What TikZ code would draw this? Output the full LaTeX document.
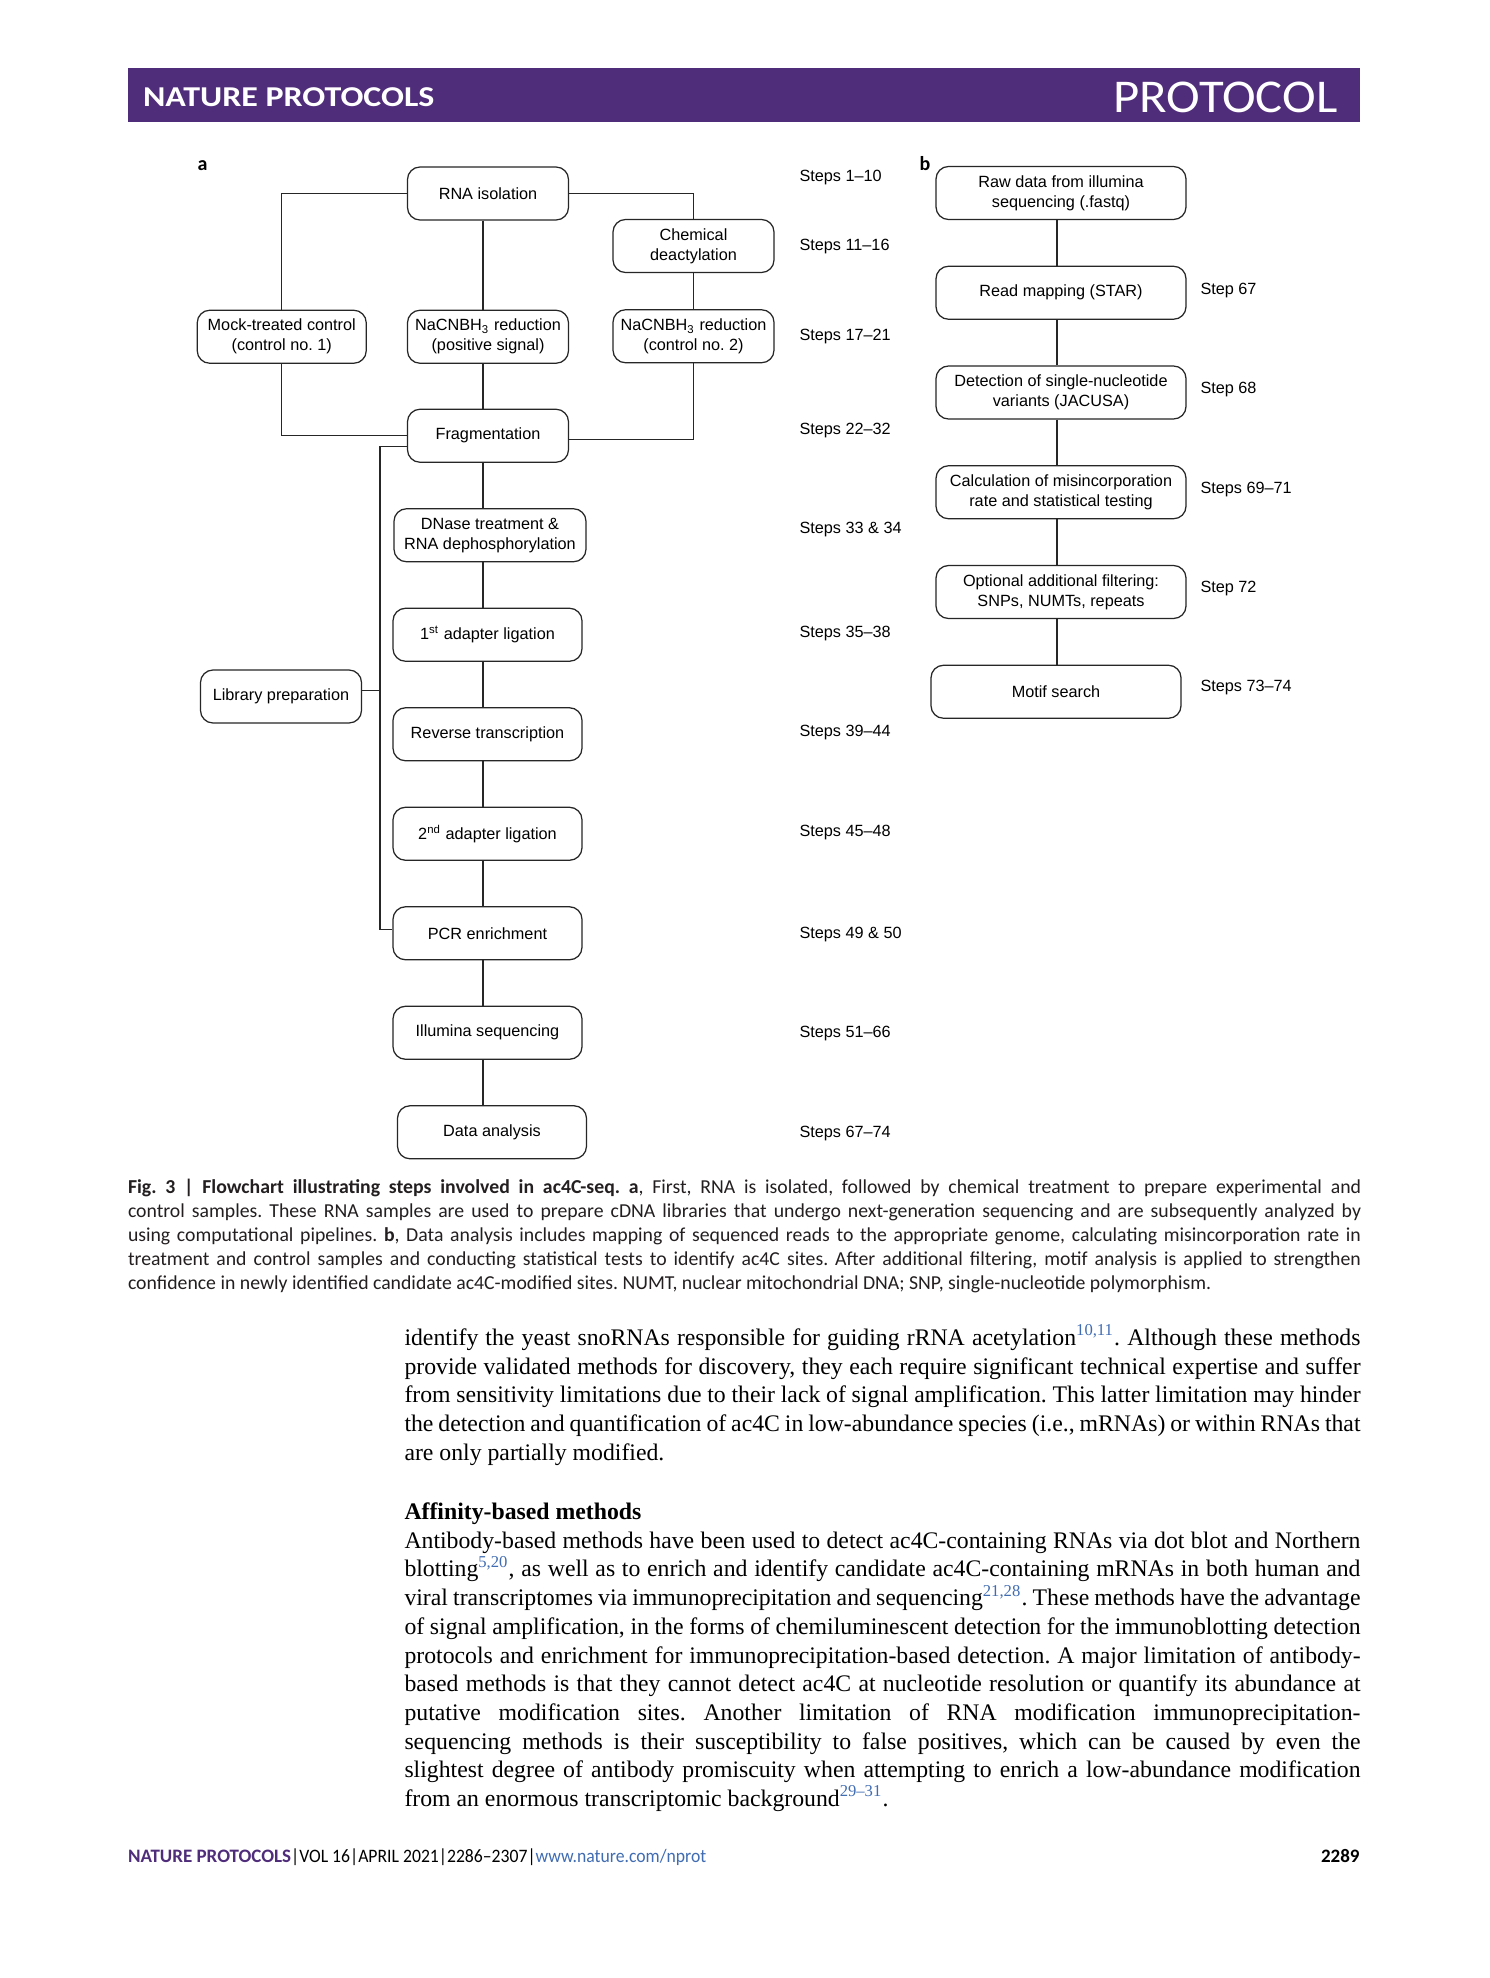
\documentclass[tikz,border=0pt]{standalone}
\usepackage{fontspec}
\setmainfont{Liberation Serif}
\setsansfont{Liberation Sans}
\newfontfamily\npfont[Ligatures=TeX]{Carlito}
\newfontfamily\npwide[Ligatures=TeX, FakeStretch=1.18]{Carlito}
\newfontfamily\nptitle[Ligatures=TeX, FakeStretch=1.08]{Carlito}
\newfontfamily\npnarrow[Ligatures=TeX, FakeStretch=0.93]{Carlito}
\usetikzlibrary{positioning}
\definecolor{npurple}{RGB}{80,45,122}
\definecolor{citeblue}{RGB}{64,108,178}
\definecolor{capgray}{RGB}{35,31,32}
\newcommand{\figfont}{\sffamily\fontsize{6.5}{8}\selectfont}
\newcommand{\refnum}[1]{\textsuperscript{\color{citeblue}#1}}
\frenchspacing

\begin{document}
\begin{tikzpicture}[
    x=0.4pt, y=-0.4pt,
    node distance=18.1pt and 16pt,
    every node/.style={inner sep=0pt},
    box/.style={draw=black!85, line width=0.5pt, rounded corners=5pt, align=center,
                font=\figfont, inner sep=1pt, minimum height=21.2pt},
    sbox/.style={box, minimum width=64.4pt},
    wbox/.style={box, minimum width=75.6pt},
    rbox/.style={box, minimum width=100pt},
    link/.style={draw=black!85, line width=0.5pt},
    steplbl/.style={font=\figfont, anchor=base west},
    panel/.style={font=\npfont\bfseries\fontsize{8}{8}\selectfont, anchor=base west},
    prose/.style={anchor=base west, align=justify, text width=382.4pt,
                  font=\rmfamily\fontsize{9.5}{11.48}\selectfont}
]
    \useasboundingbox (0,0) rectangle (1489,1978);
    \fill[white] (0,0) rectangle (1489,1978);

    % running head
    \fill[npurple] (127.5,68) rectangle (1360,122);
    \node[anchor=west, text=white, font=\npwide\bfseries\fontsize{11.5}{12}\selectfont]
        (jname) at (142.6,97.5) {NATURE PROTOCOLS};
    \node[anchor=east, text=white, font=\nptitle\fontsize{18.8}{20}\selectfont]
        (ptype) at (1338,97.7) {PROTOCOL};

    % panel a
    \node[panel] (pa) at (197,170.5) {a};
    \node[sbox] (rna) at (488,193.5) {RNA isolation};
    \node[sbox] (chem) at (693.5,246) {Chemical\\deactylation};
    \node[sbox, below=35.6pt of rna] (pos) {NaCNBH\textsubscript{3} reduction\\(positive signal)};
    \node[sbox, below=14.4pt of chem] (ctrl) {NaCNBH\textsubscript{3} reduction\\(control no. 2)};
    \node[sbox, minimum width=67.6pt, left=16pt of pos] (mock) {Mock-treated control\\(control no. 1)};
    \node[sbox, below=17.9pt of pos] (frag) {Fragmentation};
    \node[box, minimum width=76.8pt, below=of frag, xshift=0.8pt] (dnase) {DNase treatment \&\\RNA dephosphorylation};
    \node[wbox, below=of dnase, xshift=-1pt] (lig1) {1\textsuperscript{st} adapter ligation};
    \node[wbox, below=of lig1] (rt) {Reverse transcription};
    \node[wbox, below=of rt] (lig2) {2\textsuperscript{nd} adapter ligation};
    \node[wbox, below=of lig2] (pcr) {PCR enrichment};
    \node[wbox, below=of pcr] (seq) {Illumina sequencing};
    \node[wbox, below=of seq, xshift=1.8pt] (data) {Data analysis};
    \node[sbox] (lib) at (281,696.5) {Library preparation};
    \coordinate (spine) at (483,0);
    \coordinate (brk) at (380,0);

    \draw[link] (rna.west) -| (mock.north);
    \draw[link] (rna.east) -| (chem.north);
    \draw[link] (chem) -- (ctrl);
    \draw[link] (rna.south -| spine) -- (pos.north -| spine);
    \draw[link] (pos.south -| spine) -- (frag.north -| spine);
    \draw[link] (mock.south) |- (frag.west);
    \draw[link] (ctrl.south) |- ([yshift=-1.5pt]frag.east);
    \foreach \a/\b in {frag/dnase, dnase/lig1, lig1/rt, rt/lig2, lig2/pcr, pcr/seq, seq/data}
        \draw[link] (\a.south -| spine) -- (\b.north -| spine);
    \draw[link] ([yshift=-4.4pt]frag.west) -- ([yshift=-4.4pt]frag.west -| brk)
        |- ([yshift=1.6pt]pcr.west);
    \draw[link] ([yshift=2.3pt]lib.east) -- ([yshift=2.3pt]lib.east -| brk);

    \node[steplbl] (sa1) at (799,181.5) {Steps 1--10};
    \node[steplbl] (sa2) at (799,251) {Steps 11--16};
    \node[steplbl] (sa3) at (799,340.5) {Steps 17--21};
    \node[steplbl] (sa4) at (799,434) {Steps 22--32};
    \node[steplbl] (sa5) at (799,533.5) {Steps 33 \& 34};
    \node[steplbl] (sa6) at (799,637) {Steps 35--38};
    \node[steplbl] (sa7) at (799,736.5) {Steps 39--44};
    \node[steplbl] (sa8) at (799,836.3) {Steps 45--48};
    \node[steplbl] (sa9) at (799,938.5) {Steps 49 \& 50};
    \node[steplbl] (sa10) at (799,1037.5) {Steps 51--66};
    \node[steplbl] (sa11) at (799,1137.5) {Steps 67--74};

    % panel b
    \node[panel] (pb) at (919,170.5) {b};
    \node[rbox] (raw) at (1061,193) {Raw data from illumina\\sequencing (.fastq)};
    \node[rbox, below=18.2pt of raw] (map) {Read mapping (STAR)};
    \node[rbox, below=18.2pt of map] (snv) {Detection of single-nucleotide\\variants (JACUSA)};
    \node[rbox, below=18.2pt of snv] (rate) {Calculation of misincorporation\\rate and statistical testing};
    \node[rbox, below=18.2pt of rate] (filt) {Optional additional filtering:\\SNPs, NUMTs, repeats};
    \node[rbox, below=18.2pt of filt, xshift=-2pt] (motif) {Motif search};
    \coordinate (spineb) at (1057,0);
    \foreach \a/\b in {raw/map, map/snv, snv/rate, rate/filt, filt/motif}
        \draw[link] (\a.south -| spineb) -- (\b.north -| spineb);

    \node[steplbl] (sb1) at (1200,294.5) {Step 67};
    \node[steplbl] (sb2) at (1200,393.5) {Step 68};
    \node[steplbl] (sb3) at (1200,493.5) {Steps 69--71};
    \node[steplbl] (sb4) at (1200,592.7) {Step 72};
    \node[steplbl] (sb5) at (1200,691.7) {Steps 73--74};

    % legend
    \node[anchor=base west, align=justify, text width=493.2pt, text=capgray,
          font=\npfont\fontsize{7.9}{9.6}\selectfont] (caption) at (127.5,1193)
    {\hyphenpenalty=10000\exhyphenpenalty=10000
     \textbf{Fig. 3 | Flowchart illustrating steps involved in ac4C-seq. a}, First, RNA is isolated, followed by chemical treatment to prepare experimental and\linebreak
     control samples. These RNA samples are used to prepare cDNA libraries that undergo next-generation sequencing and are subsequently analyzed by\linebreak
     using computational pipelines. \textbf{b}, Data analysis includes mapping of sequenced reads to the appropriate genome, calculating misincorporation rate in\linebreak
     treatment and control samples and conducting statistical tests to identify ac4C sites. After additional filtering, motif analysis is applied to strengthen\linebreak
     confidence in newly identified candidate ac4C-modified sites. NUMT, nuclear mitochondrial DNA; SNP, single-nucleotide polymorphism.};

    % text column
    \node[prose] (para1) at (404,1345.5)
    {\hyphenpenalty=10000\exhyphenpenalty=10000
     identify the yeast snoRNAs responsible for guiding rRNA acetylation\refnum{10,11}. Although these methods\linebreak
     provide validated methods for discovery, they each require significant technical expertise and suffer\linebreak
     from sensitivity limitations due to their lack of signal amplification. This latter limitation may hinder\linebreak
     the detection and quantification of ac4C in low-abundance species (i.e., mRNAs) or within RNAs that\linebreak
     are only partially modified.};
    \node[prose] (para2) at (404,1519.5)
    {\hyphenpenalty=10000\exhyphenpenalty=10000
     \textbf{Affinity-based methods}\par
     Antibody-based methods have been used to detect ac4C-containing RNAs via dot blot and Northern\linebreak
     blotting\refnum{5,20}, as well as to enrich and identify candidate ac4C-containing mRNAs in both human and\linebreak
     viral transcriptomes via immunoprecipitation and sequencing\refnum{21,28}. These methods have the advantage\linebreak
     of signal amplification, in the forms of chemiluminescent detection for the immunoblotting detection\linebreak
     protocols and enrichment for immunoprecipitation-based detection. A major limitation of antibody-\linebreak
     based methods is that they cannot detect ac4C at nucleotide resolution or quantify its abundance at\linebreak
     putative modification sites. Another limitation of RNA modification immunoprecipitation-\linebreak
     sequencing methods is their susceptibility to false positives, which can be caused by even the\linebreak
     slightest degree of antibody promiscuity when attempting to enrich a low-abundance modification\linebreak
     from an enormous transcriptomic background\refnum{29--31}.};

    % running foot
    \node[anchor=base west, font=\npnarrow\fontsize{7.6}{9}\selectfont] (foot) at (127.5,1862)
        {\textcolor{npurple}{\npfont\bfseries NATURE PROTOCOLS}|VOL 16|APRIL 2021|2286--2307|\textcolor{citeblue}{www.nature.com/nprot}};
    \node[anchor=base east, font=\npfont\bfseries\fontsize{7.6}{9}\selectfont] (pageno) at (1360,1862) {2289};
\end{tikzpicture}
\end{document}
